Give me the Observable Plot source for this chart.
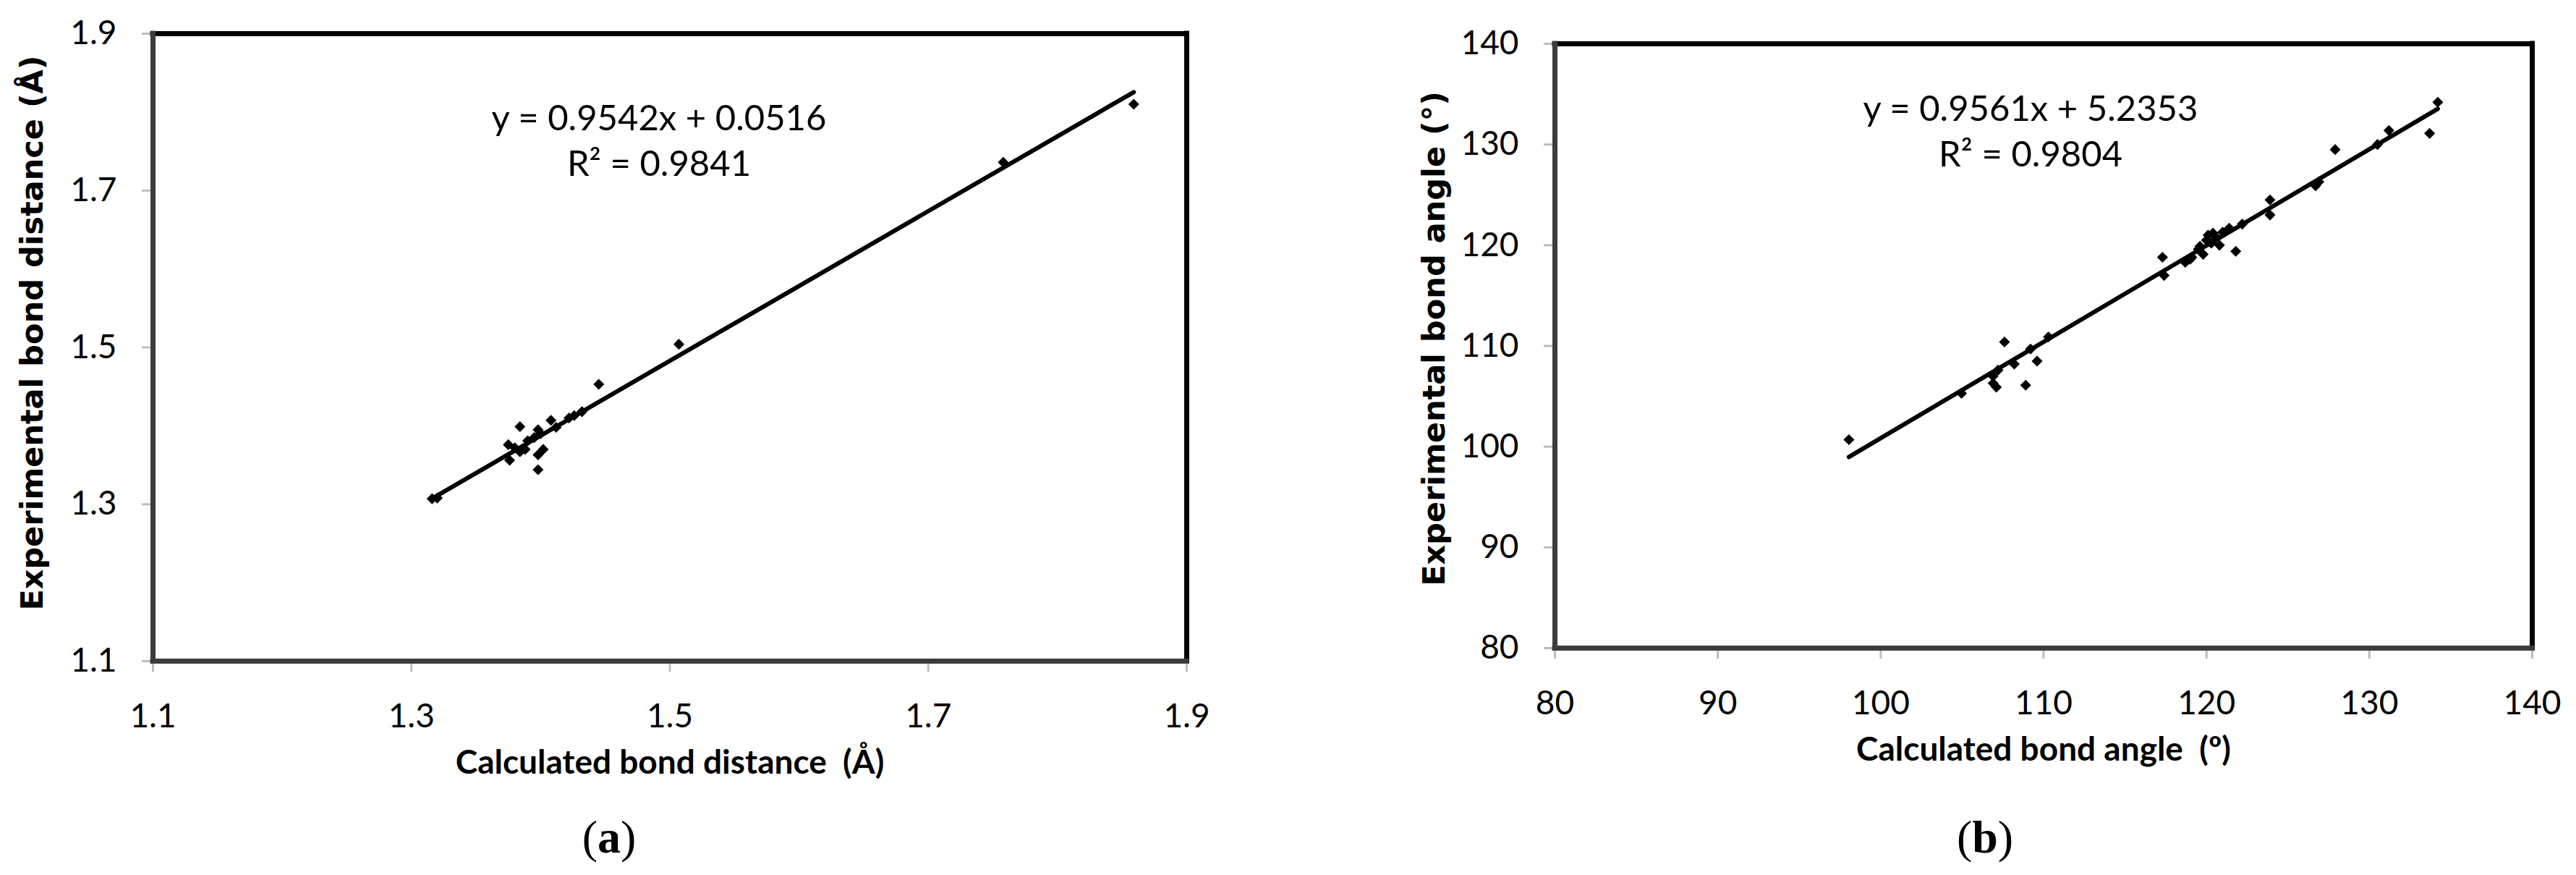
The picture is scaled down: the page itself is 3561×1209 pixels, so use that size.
<!DOCTYPE html>
<html>
<head>
<meta charset="utf-8">
<script src="https://cdn.jsdelivr.net/npm/d3@7"></script>
<script src="https://cdn.jsdelivr.net/npm/@observablehq/plot@0.6"></script>
<style>
  html, body { margin: 0; padding: 0; background: #ffffff; }
  #root { position: relative; width: 3561px; height: 1209px; background: #ffffff; overflow: hidden; }
  #root > .panel { position: absolute; top: 0; }
  .cap { position: absolute; font-family: "Liberation Serif", "DejaVu Serif", serif; font-size: 64px; line-height: 1; color: #000; transform: translateX(-50%); white-space: nowrap; }
  .cap b { font-weight: bold; }
</style>
</head>
<body>
<div id="root"></div>
<script>
// ---------- Panel (a): bond distances (Å) ----------
const calcDist = [1.316, 1.320, 1.375, 1.376, 1.380, 1.384, 1.384, 1.388, 1.390, 1.395, 1.398, 1.398, 1.398, 1.400, 1.402, 1.408, 1.412, 1.422, 1.426, 1.432, 1.445, 1.507, 1.758, 1.859];
const expDist  = [1.307, 1.308, 1.376, 1.356, 1.372, 1.399, 1.367, 1.370, 1.381, 1.385, 1.395, 1.363, 1.344, 1.390, 1.370, 1.407, 1.398, 1.410, 1.413, 1.418, 1.453, 1.504, 1.736, 1.810];
const distTicks = [1.1, 1.3, 1.5, 1.7, 1.9];
const distFit = {slope: 0.9542, intercept: 0.0516};
const distEquation = ["y = 0.9542x + 0.0516", "R² = 0.9841"];
const distLabels = {x: "Calculated bond distance  (Å)", y: "Experimental bond distance (Å)", caption: "a"};

// ---------- Panel (b): bond angles (°) ----------
const calcAng = [98.05, 104.96, 106.9, 107.1, 106.9, 107.2, 107.6, 108.2, 108.9, 109.2, 109.6, 110.3, 117.3, 117.4, 118.7, 119.1, 119.5, 119.8, 120.1, 120.3, 120.6, 121.0, 121.4, 121.8, 122.2, 123.9, 123.9, 126.7, 126.9, 127.9, 130.5, 131.2, 133.7, 134.2, 119.0, 119.6, 120.0, 120.4, 120.8];
const expAng  = [100.7, 105.3, 106.3, 105.9, 107.0, 107.6, 110.4, 108.2, 106.1, 109.7, 108.5, 110.9, 118.8, 117.0, 118.3, 118.8, 119.6, 119.1, 121.0, 120.2, 120.8, 121.3, 121.7, 119.4, 122.1, 123.0, 124.5, 125.9, 126.3, 129.5, 130.0, 131.4, 131.1, 134.2, 118.6, 119.9, 120.5, 121.2, 120.0];
const angTicks = [80, 90, 100, 110, 120, 130, 140];
const angFit = {slope: 0.9561, intercept: 5.2353};
const angEquation = ["y = 0.9561x + 5.2353", "R² = 0.9804"];
const angLabels = {x: "Calculated bond angle  (º)", y: "Experimental bond angle (°)", caption: "b"};

const SANS = "Lato, 'Open Sans', 'Liberation Sans', sans-serif";
const TITLE_Y = "'DejaVu Sans', Verdana, sans-serif";

function panel(cfg) {
  const pts = cfg.xs.map((x, i) => ({x, y: cfg.ys[i]}));
  const [x0, x1] = d3.extent(cfg.xs);
  const fit = [x0, x1].map(x => ({x, y: cfg.fit.slope * x + cfg.fit.intercept}));
  const dom = [cfg.ticks[0], cfg.ticks[cfg.ticks.length - 1]];
  return Plot.plot({
    width: cfg.width,
    height: cfg.height,
    marginLeft: cfg.ml, marginRight: cfg.mr, marginTop: cfg.mt, marginBottom: cfg.mb,
    x: {domain: dom, ticks: cfg.ticks},
    y: {domain: dom, ticks: cfg.ticks},
    style: {fontFamily: SANS, color: "#000", background: "transparent", overflow: "visible"},
    marks: [
      Plot.axisX({ticks: cfg.ticks, tickSize: 15, tickPadding: 44, stroke: "#bdbdbd", strokeWidth: 3, fill: "#000", fontSize: 46, tickFormat: cfg.fmt, label: null}),
      Plot.axisY({ticks: cfg.ticks, tickSize: 15, tickPadding: 35, stroke: "#bdbdbd", strokeWidth: 3, fill: "#000", fontSize: 46, tickFormat: cfg.fmt, label: null}),
      Plot.ruleY([dom[1]], {stroke: "#000", strokeWidth: 7, strokeLinecap: "square"}),
      Plot.ruleX([dom[1]], {stroke: "#000", strokeWidth: 7, strokeLinecap: "square"}),
      Plot.ruleY([dom[0]], {stroke: "#3c3c3c", strokeWidth: 7, strokeLinecap: "square"}),
      Plot.ruleX([dom[0]], {stroke: "#3c3c3c", strokeWidth: 7, strokeLinecap: "square"}),
      Plot.line(fit, {x: "x", y: "y", stroke: "#000", strokeWidth: 6}),
      Plot.dot(pts, {x: "x", y: "y", symbol: "diamond2", r: 6.8, fill: "#000", stroke: "none"}),
      Plot.text([cfg.eq[0]], {text: d => d, frameAnchor: "top", dx: cfg.eqDx, dy: cfg.eqDy, fontSize: 49, lineAnchor: "middle"}),
      Plot.text([cfg.eq[1]], {text: d => d, frameAnchor: "top", dx: cfg.eqDx, dy: cfg.eqDy + 63, fontSize: 49, lineAnchor: "middle"}),
      Plot.text([cfg.labels.x], {text: d => d, frameAnchor: "bottom", dy: 141, fontSize: 46, fontWeight: "bold", lineAnchor: "middle"}),
      Plot.text([cfg.labels.y], {text: d => d, frameAnchor: "left", dx: -166, dy: cfg.ytDy, rotate: -90, textAnchor: "middle", fontSize: 43, fontWeight: "bold", fontFamily: TITLE_Y, lineAnchor: "middle"})
    ]
  });
}

const root = document.getElementById("root");

const pa = panel({xs: calcDist, ys: expDist, ticks: distTicks, fit: distFit, eq: distEquation, labels: distLabels,
  fmt: d3.format(".1f"), width: 1780, height: 1209, ml: 211, mr: 140, mt: 46, mb: 296, eqDx: -15, eqDy: 118, ytDy: -20});
pa.classList.add("panel");
pa.style.left = "0px";
root.appendChild(pa);

const pb = panel({xs: calcAng, ys: expAng, ticks: angTicks, fit: angFit, eq: angEquation, labels: angLabels,
  fmt: d3.format("d"), width: 1781, height: 1209, ml: 369, mr: 61, mt: 60, mb: 314, eqDx: -18, eqDy: 91, ytDy: -10});
pb.classList.add("panel");
pb.style.left = "1780px";
root.appendChild(pb);

function caption(letter, cx) {
  const d = document.createElement("div");
  d.className = "cap";
  d.style.left = cx + "px";
  d.style.top = "1125px";
  d.innerHTML = "(<b>" + letter + "</b>)";
  root.appendChild(d);
}
caption(distLabels.caption, 842);
caption(angLabels.caption, 2744);
</script>
</body>
</html>
